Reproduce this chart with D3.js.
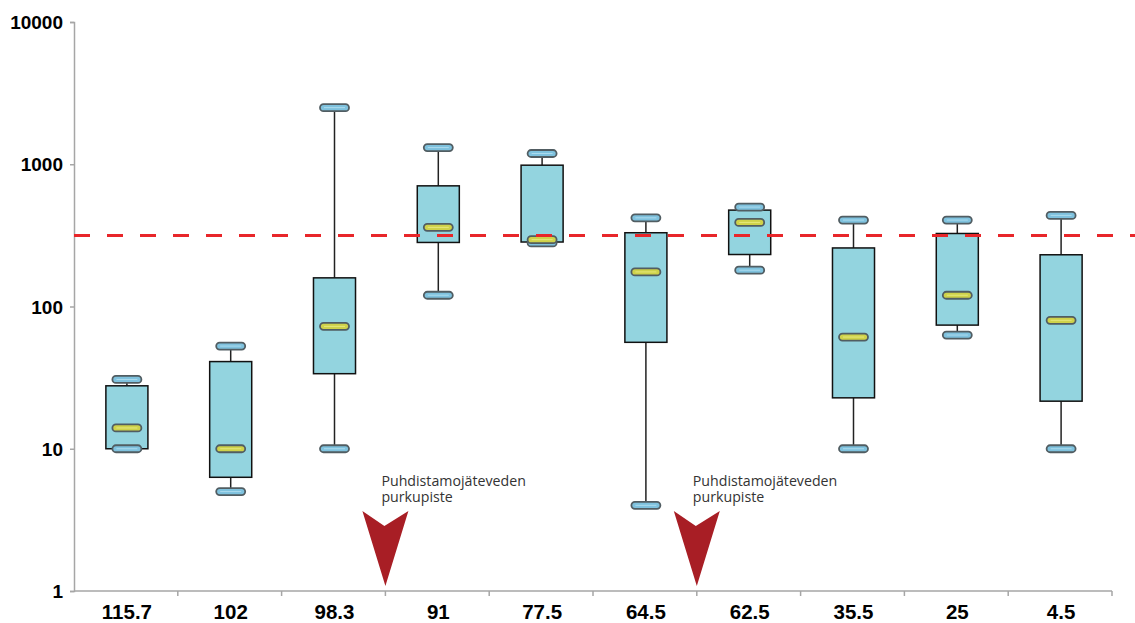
<!DOCTYPE html>
<html>
<head>
<meta charset="utf-8">
<script src="https://cdn.jsdelivr.net/npm/d3@7"></script>
<style>
  html, body { margin: 0; padding: 0; background: #fff; }
  svg { display: block; }
  .discharge-label {
    font-family: 'Open Sans', 'Noto Sans', sans-serif;
    font-size: 14.2px;
    line-height: 16px;
    color: #333;
    white-space: nowrap;
    margin: 0;
  }
</style>
</head>
<body>
<svg id="chart" width="1135" height="623"></svg>
<script>
// Sampling sites (river km) and the box-plot statistics per site
const categories = ["115.7", "102", "98.3", "91", "77.5", "64.5", "62.5", "35.5", "25", "4.5"];
const minValues    = [10,   5,    10,   120,  280,  4,    180, 10,  63,  10];
const q1Values     = [10,   6.3,  33.7, 282,  284,  56,   232, 22.8, 74, 21.6];
const medianValues = [14,   10,   72.5, 360,  295,  175,  390, 61,  120, 80];
const q3Values     = [27.7, 41,   159,  705,  985,  330,  476, 258, 326, 231];
const maxValues    = [30.7, 52.7, 2500, 1310, 1190, 420,  500, 405, 405, 437];

// Limit value drawn as a dashed reference line
const limitValue = 316;

// Y-axis tick labels
const yTicks = [1, 10, 100, 1000, 10000];

// Discharge points (between two sites)
const dischargeAfter = ["98.3", "64.5"];
const dischargeLabel = ["Puhdistamojäteveden", "purkupiste"];

const svg = d3.select("#chart");

const x = d3.scaleBand().domain(categories).range([74, 1112]);
const y = d3.scaleLog().domain([1, 10000]).range([591, 22]);

const axisColor = "#a6a6a6";
const labelFont = "'Liberation Sans', Arial, sans-serif";

// Y axis
const yAxis = svg.append("g")
  .attr("transform", "translate(74,0)")
  .call(d3.axisLeft(y).tickValues(yTicks).tickFormat(d3.format("d")).tickSizeOuter(0).tickSize(4));
yAxis.select(".domain").attr("stroke", axisColor).attr("stroke-width", 1.5);
yAxis.selectAll(".tick line").attr("stroke", axisColor).attr("stroke-width", 1.5);
yAxis.selectAll(".tick text")
  .attr("x", -11)
  .attr("dy", "0.35em")
  .style("font-family", labelFont)
  .style("font-weight", "bold")
  .style("font-size", "19px")
  .attr("fill", "#000");

// X axis: ticks on category boundaries
const boundaries = categories.map(c => x(c) + x.bandwidth());
const xAxisG = svg.append("g").attr("transform", `translate(0,${y(1)})`);
xAxisG.append("line")
  .attr("x1", x.range()[0]).attr("x2", x.range()[1])
  .attr("stroke", axisColor).attr("stroke-width", 1.5);
xAxisG.selectAll("line.tick")
  .data(boundaries)
  .join("line")
  .attr("class", "tick")
  .attr("x1", d => d).attr("x2", d => d)
  .attr("y1", 0).attr("y2", 5)
  .attr("stroke", axisColor).attr("stroke-width", 1.5);
xAxisG.selectAll("text")
  .data(categories)
  .join("text")
  .attr("x", d => x(d) + x.bandwidth() / 2 + 1)
  .attr("y", 28)
  .attr("text-anchor", "middle")
  .style("font-family", labelFont)
  .style("font-weight", "bold")
  .style("font-size", "20.5px")
  .attr("fill", "#000")
  .text(d => d);

// Box plots
const boxW = x.bandwidth() * 0.405;
const capW = 29, capH = 7;
const stats = categories.map((c, i) => ({
  cat: c, min: minValues[i], q1: q1Values[i], med: medianValues[i], q3: q3Values[i], max: maxValues[i]
}));

const boxes = svg.append("g").selectAll("g")
  .data(stats)
  .join("g")
  .attr("transform", d => `translate(${x(d.cat) + x.bandwidth() / 2 + 1},0)`);

// Whiskers
boxes.append("line")
  .attr("x1", 0).attr("x2", 0)
  .attr("y1", d => y(d.max)).attr("y2", d => y(d.q3))
  .attr("stroke", "#222").attr("stroke-width", 1.5);
boxes.append("line")
  .attr("x1", 0).attr("x2", 0)
  .attr("y1", d => y(d.q1)).attr("y2", d => y(d.min))
  .attr("stroke", "#222").attr("stroke-width", 1.5);

// Interquartile box
boxes.append("rect")
  .attr("x", -boxW / 2)
  .attr("width", boxW)
  .attr("y", d => y(d.q3))
  .attr("height", d => y(d.q1) - y(d.q3))
  .attr("fill", "#93d4df")
  .attr("stroke", "#111")
  .attr("stroke-width", 1.5);

// Min / max / median markers
function cap(sel, key, fill, shine) {
  sel.append("rect")
    .attr("x", -capW / 2).attr("width", capW)
    .attr("y", d => y(d[key]) - capH / 2).attr("height", capH)
    .attr("rx", 3.5).attr("ry", 3.5)
    .attr("fill", fill)
    .attr("stroke", "#515d62")
    .attr("stroke-width", 1.8);
  sel.append("line")
    .attr("x1", -capW / 2 + 4).attr("x2", capW / 2 - 4)
    .attr("y1", d => y(d[key])).attr("y2", d => y(d[key]))
    .attr("stroke", shine).attr("stroke-width", 1).attr("opacity", 0.8);
}
cap(boxes, "max", "#7fc2de", "#b8e2f2");
cap(boxes, "min", "#7fc2de", "#b8e2f2");
cap(boxes, "med", "#cfd24a", "#ecee8a");

// Limit line
svg.append("line")
  .attr("x1", 74).attr("x2", 1135)
  .attr("y1", y(limitValue)).attr("y2", y(limitValue))
  .attr("stroke", "#e8262a")
  .attr("stroke-width", 3)
  .attr("stroke-dasharray", "16,17");

// Discharge point markers
const markers = svg.append("g").selectAll("g")
  .data(dischargeAfter)
  .join("g")
  .attr("transform", d => `translate(${x(d) + x.bandwidth()},${y(1)})`);

markers.append("path")
  .attr("d", "M0,-5 L-23,-80 L-1,-65 L23,-80 Z")
  .attr("fill", "#a81e25");

// Two-line caption above each marker
markers.append("foreignObject")
  .attr("x", -4)
  .attr("y", -118)
  .attr("width", 180)
  .attr("height", 36)
  .append("xhtml:div")
  .attr("class", "discharge-label")
  .html(dischargeLabel.join("<br>"));
</script>
</body>
</html>
